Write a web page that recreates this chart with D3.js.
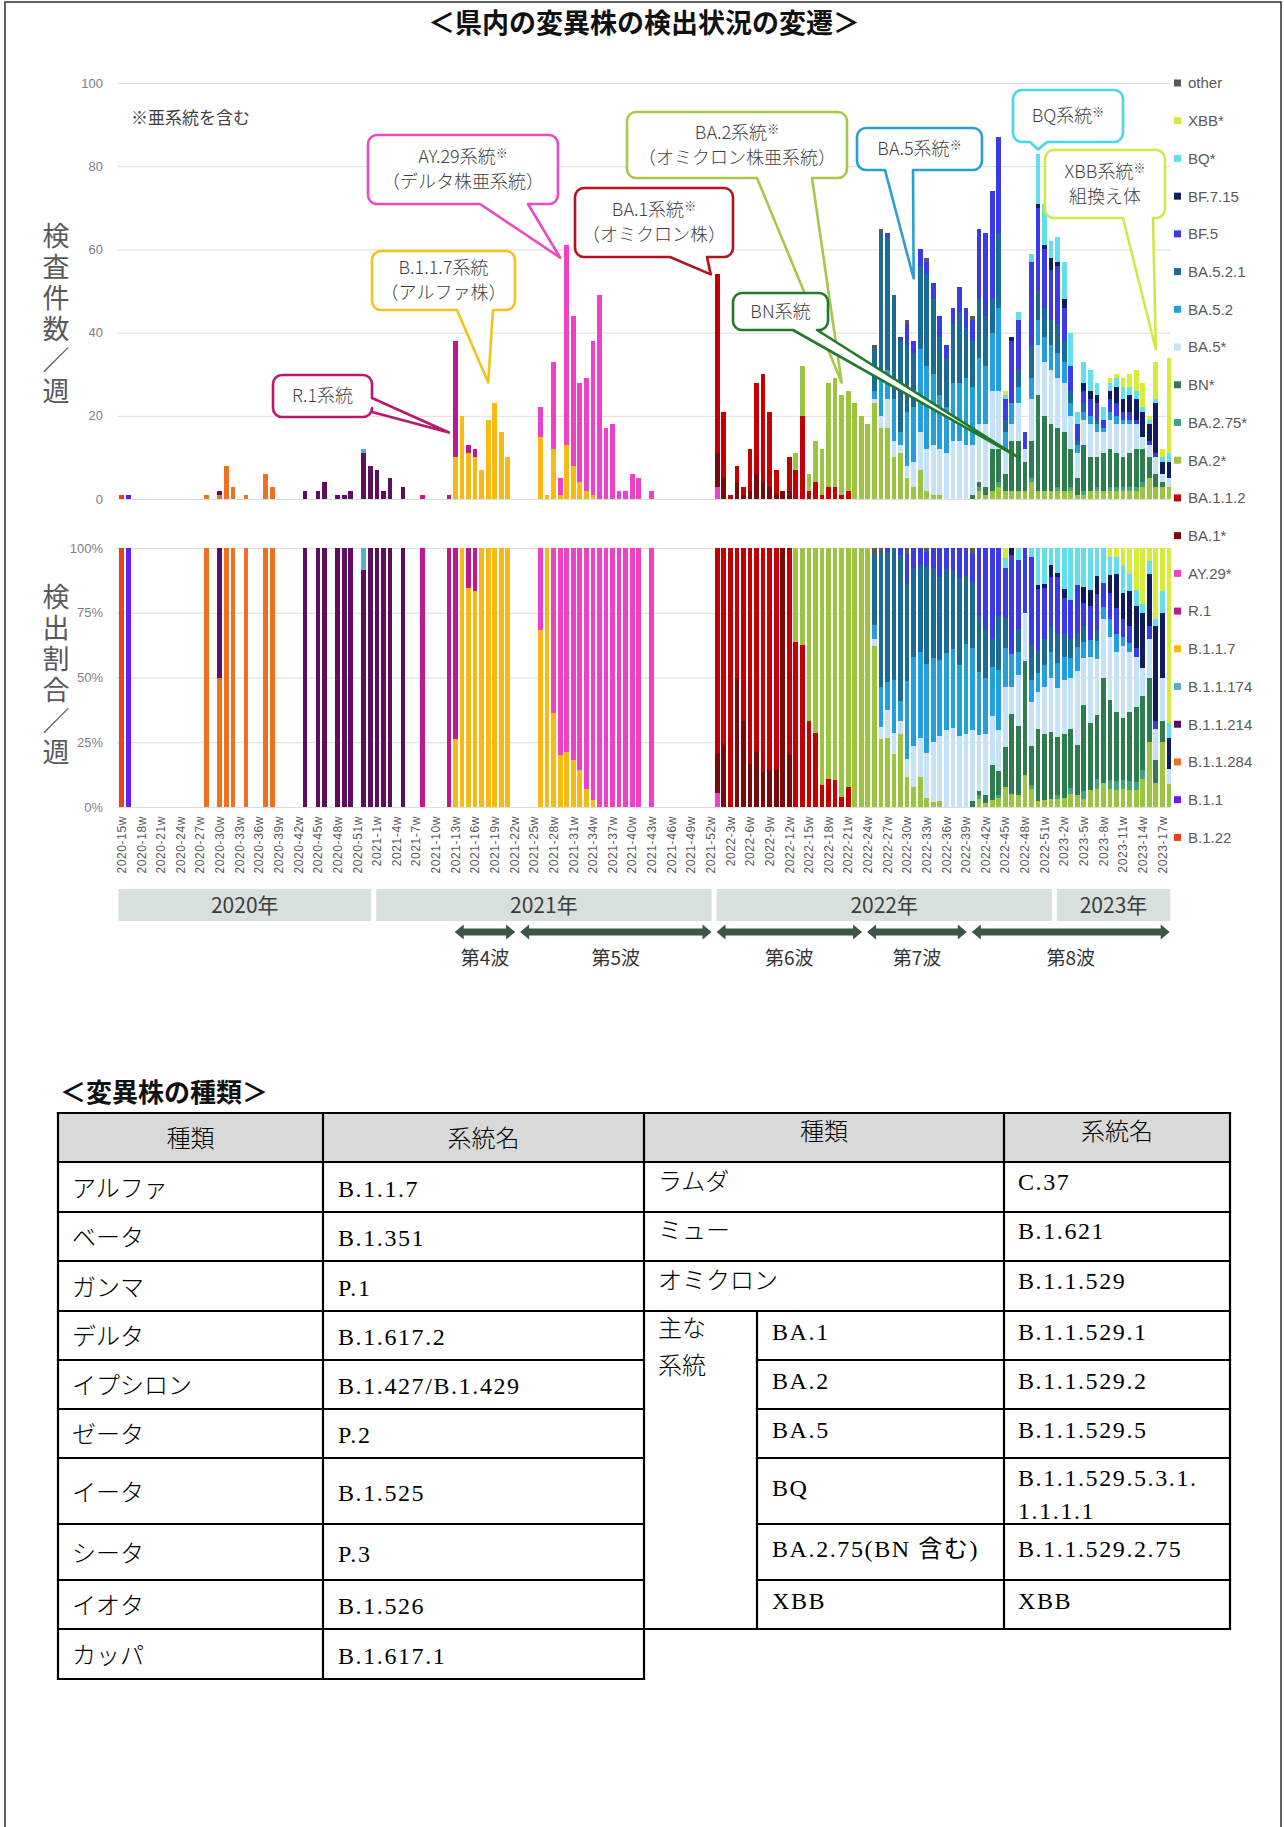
<!DOCTYPE html>
<html lang="ja">
<head>
<meta charset="utf-8">
<title>県内の変異株の検出状況の変遷</title>
<script src="https://cdn.jsdelivr.net/npm/d3@7/dist/d3.min.js"></script>
<style>
html,body{margin:0;padding:0;background:#fff;}
svg{display:block;}
text{font-family:"Liberation Sans","Noto Sans CJK JP",sans-serif;}
.vtitle{writing-mode:vertical-rl;font-feature-settings:"vert" 0,"vrt2" 0;}
</style>
</head>
<body>
<svg id="page" width="1284" height="1827" viewBox="0 0 1284 1827"></svg>
<script>
// ================= DATA =================
const weeks = [
"2020-15w","2020-16w","2020-17w","2020-18w","2020-19w","2020-20w","2020-21w","2020-22w","2020-23w","2020-24w","2020-25w","2020-26w","2020-27w","2020-28w","2020-29w","2020-30w","2020-31w","2020-32w","2020-33w","2020-34w","2020-35w","2020-36w","2020-37w","2020-38w","2020-39w","2020-40w","2020-41w","2020-42w","2020-43w","2020-44w","2020-45w","2020-46w","2020-47w","2020-48w","2020-49w","2020-50w","2020-51w","2020-52w","2020-53w",
"2021-1w","2021-2w","2021-3w","2021-4w","2021-5w","2021-6w","2021-7w","2021-8w","2021-9w","2021-10w","2021-11w","2021-12w","2021-13w","2021-14w","2021-15w","2021-16w","2021-17w","2021-18w","2021-19w","2021-20w","2021-21w","2021-22w","2021-23w","2021-24w","2021-25w","2021-26w","2021-27w","2021-28w","2021-29w","2021-30w","2021-31w","2021-32w","2021-33w","2021-34w","2021-35w","2021-36w","2021-37w","2021-38w","2021-39w","2021-40w","2021-41w","2021-42w","2021-43w","2021-44w","2021-45w","2021-46w","2021-47w","2021-48w","2021-49w","2021-50w","2021-51w","2021-52w",
"2022-1w","2022-2w","2022-3w","2022-4w","2022-5w","2022-6w","2022-7w","2022-8w","2022-9w","2022-10w","2022-11w","2022-12w","2022-13w","2022-14w","2022-15w","2022-16w","2022-17w","2022-18w","2022-19w","2022-20w","2022-21w","2022-22w","2022-23w","2022-24w","2022-25w","2022-26w","2022-27w","2022-28w","2022-29w","2022-30w","2022-31w","2022-32w","2022-33w","2022-34w","2022-35w","2022-36w","2022-37w","2022-38w","2022-39w","2022-40w","2022-41w","2022-42w","2022-43w","2022-44w","2022-45w","2022-46w","2022-47w","2022-48w","2022-49w","2022-50w","2022-51w","2022-52w",
"2023-1w","2023-2w","2023-3w","2023-4w","2023-5w","2023-6w","2023-7w","2023-8w","2023-9w","2023-10w","2023-11w","2023-12w","2023-13w","2023-14w","2023-15w","2023-16w","2023-17w","2023-18w"];

const tickWeeks = ["2020-15w","2020-18w","2020-21w","2020-24w","2020-27w","2020-30w","2020-33w","2020-36w","2020-39w","2020-42w","2020-45w","2020-48w","2020-51w",
"2021-1w","2021-4w","2021-7w","2021-10w","2021-13w","2021-16w","2021-19w","2021-22w","2021-25w","2021-28w","2021-31w","2021-34w","2021-37w","2021-40w","2021-43w","2021-46w","2021-49w","2021-52w",
"2022-3w","2022-6w","2022-9w","2022-12w","2022-15w","2022-18w","2022-21w","2022-24w","2022-27w","2022-30w","2022-33w","2022-36w","2022-39w","2022-42w","2022-45w","2022-48w","2022-51w",
"2023-2w","2023-5w","2023-8w","2023-11w","2023-14w","2023-17w"];

// stack order: bottom -> top
const seriesKeys = ["B.1.22","B.1.1","B.1.1.284","B.1.1.214","B.1.1.174","B.1.1.7","R.1","AY.29*","BA.1*","BA.1.1.2","BA.2*","BA.2.75*","BN*","BA.5*","BA.5.2","BA.5.2.1","BF.5","BF.7.15","BQ*","XBB*","other"];
const seriesColors = ["#ef3e1e","#6a1cf6","#f07020","#5e0e5e","#5aaecf","#f7ba14","#c0168e","#f040c8","#7a0a0a","#c40000","#9bc540","#46a27e","#2e7d4f","#c5e3f5","#23a0dc","#1c6b94","#3a3ae6","#0f1e5a","#62dfea","#d6eb3a","#595959"];

const B_1_22 = [["2020-15w",1]];
const B_1_1 = [["2020-16w",1]];
const B_1_1_284 = [["2020-28w",1],["2020-30w",1],["2020-31w",8],["2020-32w",3],["2020-34w",1],["2020-37w",6],["2020-38w",3]];
const B_1_1_214 = [["2020-30w",1],["2020-43w",2],["2020-45w",2],["2020-46w",4],["2020-48w",1],["2020-49w",1],["2020-50w",2],["2020-52w",11],["2020-53w",8],["2021-1w",7],["2021-2w",2],["2021-3w",5],["2021-5w",3]];
const B_1_1_174 = [["2020-52w",1]];
const B_1_1_7 = [["2021-13w",10],["2021-14w",20],["2021-15w",11],["2021-16w",10],["2021-17w",7],["2021-18w",19],["2021-19w",23],["2021-20w",16],["2021-21w",10],["2021-26w",15],["2021-27w",1],["2021-28w",12],["2021-29w",1],["2021-30w",13],["2021-31w",8],["2021-32w",4],["2021-33w",2],["2021-34w",1]];
const R_1 = [["2021-8w",1],["2021-12w",1],["2021-13w",28],["2021-15w",2],["2021-16w",2]];
const AY_29 = [["2021-26w",7],["2021-28w",21],["2021-29w",4],["2021-30w",48],["2021-31w",36],["2021-32w",24],["2021-33w",27],["2021-34w",37],["2021-35w",49],["2021-36w",17],["2021-37w",18],["2021-38w",2],["2021-39w",2],["2021-40w",6],["2021-41w",5],["2021-43w",2],["2022-1w",3]];
const BA_1 = [["2022-1w",8],["2022-2w",5],["2022-4w",4],["2022-5w",1],["2022-6w",2],["2022-7w",6],["2022-8w",4],["2022-9w",3],["2022-10w",1],["2022-11w",2],["2022-12w",2]];
const BA_1_1_2 = [["2022-1w",43],["2022-2w",16],["2022-3w",1],["2022-4w",4],["2022-5w",2],["2022-6w",10],["2022-7w",22],["2022-8w",26],["2022-9w",18],["2022-10w",6],["2022-12w",8],["2022-13w",7],["2022-14w",20],["2022-15w",2],["2022-16w",4],["2022-17w",1],["2022-18w",3],["2022-19w",3],["2022-20w",1],["2022-21w",2]];
const BA_2 = [["2022-13w",4],["2022-14w",12],["2022-15w",4],["2022-16w",10],["2022-17w",11],["2022-18w",25],["2022-19w",26],["2022-20w",24],["2022-21w",24],["2022-22w",23],["2022-23w",20],["2022-24w",18],["2022-25w",23],["2022-26w",17],["2022-27w",17],["2022-28w",10],["2022-29w",11],["2022-30w",5],["2022-31w",3],["2022-32w",7],["2022-33w",2],["2022-34w",1],["2022-35w",1],["2022-41w",2],["2022-42w",1],["2022-43w",2],["2022-44w",3],["2022-45w",2],["2022-46w",2],["2022-47w",2],["2022-48w",2],["2022-49w",4],["2022-50w",2],["2022-51w",2],["2022-52w",2],["2023-1w",2],["2023-2w",2],["2023-3w",2],["2023-4w",1],["2023-5w",1],["2023-6w",2],["2023-7w",2],["2023-8w",2],["2023-9w",2],["2023-10w",2],["2023-11w",2],["2023-12w",2],["2023-13w",2],["2023-14w",3],["2023-15w",5],["2023-16w",3],["2023-17w",3],["2023-18w",3]];
const BA_2_75 = [["2022-41w",1],["2022-44w",1],["2022-49w",1],["2023-1w",1],["2023-3w",1],["2023-5w",1],["2023-7w",1],["2023-9w",1],["2023-10w",1],["2023-11w",1],["2023-12w",1],["2023-13w",1],["2023-14w",1]];
const BN = [["2022-40w",1],["2022-41w",1],["2022-42w",2],["2022-43w",10],["2022-44w",8],["2022-45w",4],["2022-46w",12],["2022-47w",12],["2022-48w",7],["2022-49w",9],["2022-50w",23],["2022-51w",18],["2022-52w",16],["2023-1w",14],["2023-2w",14],["2023-3w",9],["2023-4w",4],["2023-5w",11],["2023-6w",8],["2023-7w",7],["2023-8w",9],["2023-9w",9],["2023-10w",8],["2023-11w",7],["2023-12w",8],["2023-13w",9],["2023-14w",8],["2023-15w",5],["2023-16w",3],["2023-17w",1]];
const BA_5 = [["2022-25w",1],["2022-26w",3],["2022-27w",7],["2022-28w",4],["2022-29w",2],["2022-30w",3],["2022-31w",6],["2022-32w",9],["2022-33w",10],["2022-34w",12],["2022-35w",11],["2022-36w",11],["2022-37w",14],["2022-38w",14],["2022-39w",13],["2022-40w",12],["2022-41w",14],["2022-42w",15],["2022-43w",14],["2022-44w",14],["2022-45w",6],["2022-46w",4],["2022-47w",9],["2022-48w",3],["2022-49w",10],["2022-50w",12],["2022-51w",13],["2022-52w",13],["2023-1w",12],["2023-2w",12],["2023-3w",8],["2023-4w",6],["2023-5w",6],["2023-6w",8],["2023-7w",6],["2023-8w",5],["2023-9w",7],["2023-10w",7],["2023-11w",8],["2023-12w",7],["2023-13w",6],["2023-14w",3],["2023-15w",3],["2023-16w",4],["2023-17w",2],["2023-18w",2]];
const BA_5_2 = [["2022-25w",2],["2022-26w",10],["2022-27w",7],["2022-28w",10],["2022-29w",3],["2022-30w",13],["2022-31w",13],["2022-32w",20],["2022-33w",20],["2022-34w",17],["2022-35w",13],["2022-36w",11],["2022-37w",14],["2022-38w",14],["2022-39w",16],["2022-40w",14],["2022-41w",16],["2022-42w",14],["2022-43w",14],["2022-44w",20],["2022-45w",4],["2022-46w",5],["2022-47w",4],["2022-49w",5],["2022-50w",6],["2022-51w",6],["2022-52w",6],["2023-1w",6],["2023-2w",5],["2023-3w",3],["2023-4w",2],["2023-5w",2],["2023-6w",2],["2023-7w",2],["2023-8w",1],["2023-9w",2],["2023-10w",2],["2023-11w",1],["2023-12w",1]];
const BA_5_2_1 = [["2022-25w",10],["2022-26w",34],["2022-27w",32],["2022-28w",25],["2022-29w",22],["2022-30w",16],["2022-31w",13],["2022-32w",20],["2022-33w",22],["2022-34w",18],["2022-35w",14],["2022-36w",12],["2022-37w",14],["2022-38w",17],["2022-39w",12],["2022-40w",11],["2022-41w",14],["2022-42w",12],["2022-43w",8],["2022-44w",18],["2022-45w",3],["2022-47w",4],["2022-49w",8],["2022-50w",7],["2022-51w",7],["2022-52w",6],["2023-1w",7],["2023-2w",5],["2023-3w",3],["2023-4w",1],["2023-5w",2],["2023-7w",1]];
const BF_5 = [["2022-27w",1],["2022-29w",1],["2022-30w",5],["2022-31w",3],["2022-32w",4],["2022-33w",3],["2022-34w",4],["2022-35w",5],["2022-36w",3],["2022-37w",4],["2022-38w",6],["2022-39w",5],["2022-40w",5],["2022-41w",17],["2022-42w",20],["2022-43w",26],["2022-44w",23],["2022-45w",5],["2022-46w",15],["2022-47w",12],["2022-48w",4],["2022-49w",20],["2022-50w",20],["2022-51w",14],["2022-52w",12],["2023-1w",14],["2023-2w",8],["2023-3w",6],["2023-4w",4],["2023-5w",3],["2023-6w",4],["2023-7w",4],["2023-8w",2],["2023-9w",3],["2023-10w",3],["2023-11w",2],["2023-12w",2],["2023-13w",1],["2023-15w",1],["2023-16w",1]];
const BF_7_15 = [["2022-46w",1],["2022-50w",1],["2022-51w",1],["2022-52w",3],["2023-1w",1],["2023-2w",2],["2023-5w",2],["2023-6w",2],["2023-7w",2],["2023-9w",2],["2023-10w",4],["2023-11w",3],["2023-12w",4],["2023-13w",5],["2023-14w",6],["2023-15w",4],["2023-16w",12],["2023-17w",3],["2023-18w",4]];
const BQ = [["2022-45w",1],["2022-47w",2],["2022-49w",2],["2022-50w",12],["2022-51w",10],["2022-52w",4],["2023-1w",6],["2023-2w",9],["2023-3w",8],["2023-4w",3],["2023-5w",5],["2023-6w",5],["2023-7w",3],["2023-8w",3],["2023-9w",2],["2023-10w",2],["2023-11w",3],["2023-12w",2],["2023-13w",2],["2023-14w",1],["2023-15w",1],["2023-16w",1],["2023-17w",1],["2023-18w",2]];
const XBB = [["2022-45w",1],["2023-9w",1],["2023-10w",1],["2023-11w",2],["2023-12w",3],["2023-13w",5],["2023-14w",6],["2023-15w",1],["2023-16w",9],["2023-17w",2],["2023-18w",23]];
const OTHER = [["2022-25w",1],["2022-26w",1],["2022-30w",1],["2022-33w",1],["2022-40w",1]];

const seriesData = [B_1_22,B_1_1,B_1_1_284,B_1_1_214,B_1_1_174,B_1_1_7,R_1,AY_29,BA_1,BA_1_1_2,BA_2,BA_2_75,BN,BA_5,BA_5_2,BA_5_2_1,BF_5,BF_7_15,BQ,XBB,OTHER];

const countTicks = [0,20,40,60,80,100];
const shareTicks = [0,0.25,0.5,0.75,1];

const yearLabels = ["2020年","2021年","2022年","2023年"];
const yearFirst = ["2020-15w","2021-1w","2022-1w","2023-1w"];
const yearLast = ["2020-53w","2021-52w","2022-52w","2023-18w"];

const waveLabels = ["第4波","第5波","第6波","第7波","第8波"];
const waveFirst = ["2021-13w","2021-23w","2022-1w","2022-24w","2022-40w"];
const waveLast = ["2021-22w","2021-52w","2022-23w","2022-39w","2023-18w"];

const calloutLines = [["R.1系統"],["B.1.1.7系統","（アルファ株）"],["AY.29系統※","（デルタ株亜系統）"],["BA.1系統※","（オミクロン株）"],["BA.2系統※","（オミクロン株亜系統）"],["BN系統"],["BA.5系統※"],["BQ系統※"],["XBB系統※","組換え体"]];
const calloutColors = ["#b8186f","#f0c419","#e94bc3","#b0141e","#a7c84b","#22792d","#2a9fd0","#46d8e6","#d3e64c"];
const calloutTargets = [["2021-12w",16],["2021-18w",28],["2021-29w",58],["2021-52w",54],["2022-20w",28],["2022-47w",10],["2022-31w",53],["2022-50w",84],["2023-16w",36]];

const leftTypes = ["アルファ","ベータ","ガンマ","デルタ","イプシロン","ゼータ","イータ","シータ","イオタ","カッパ"];
const leftLineages = ["B.1.1.7","B.1.351","P.1","B.1.617.2","B.1.427/B.1.429","P.2","B.1.525","P.3","B.1.526","B.1.617.1"];
const rightTypes = ["ラムダ","ミュー","オミクロン"];
const rightLineages = ["C.37","B.1.621","B.1.1.529"];
const subTypes = ["BA.1","BA.2","BA.5","BQ","BA.2.75(BN 含む)","XBB"];
const subLineages = [["B.1.1.529.1"],["B.1.1.529.2"],["B.1.1.529.5"],["B.1.1.529.5.3.1.","1.1.1.1"],["B.1.1.529.2.75"],["XBB"]];
const headerLabels = ["種類","系統名","種類","系統名"];

// ================= LAYOUT =================
const svg = d3.select("#page");
const JP = "'Noto Sans CJK JP',sans-serif";
const SERIF = "'Liberation Serif','Noto Sans CJK JP',serif";

// page frame
svg.append("rect").attr("x",5).attr("y",2).attr("width",1276).attr("height",1840)
  .attr("fill","none").attr("stroke","#3a3a3a").attr("stroke-width",1.6);

// title
svg.append("text").attr("x",644).attr("y",23).attr("dy","0.36em").attr("text-anchor","middle")
  .style("font-family",JP).style("font-weight",700).style("font-size","27px").attr("fill","#111")
  .text("＜県内の変異株の検出状況の変遷＞");

// data table
const rows = weeks.map(w => { const r = {week:w}; seriesKeys.forEach(k => r[k] = 0); return r; });
const rowIndex = new Map(weeks.map((w,i) => [w,i]));
seriesData.forEach((arr,si) => arr.forEach(([w,v]) => { rows[rowIndex.get(w)][seriesKeys[si]] = v; }));
const colorOf = d3.scaleOrdinal().domain(seriesKeys).range(seriesColors);

const x = d3.scaleBand().domain(weeks).range([118.4,1172.2]).paddingInner(0.28).paddingOuter(0.14);
const yTop = d3.scaleLinear().domain([0,100]).range([499,83]);
const yBot = d3.scaleLinear().domain([0,1]).range([807,548]);

function styleGrid(g){
  g.select(".domain").remove();
  g.selectAll(".tick line").attr("stroke","#dcdcdc").attr("stroke-width",1);
  g.selectAll(".tick text").attr("fill","#7f7f7f").style("font-size","13px")
    .style("font-family","'Liberation Sans',sans-serif");
}
svg.append("g").attr("transform","translate(117,0)")
  .call(d3.axisLeft(yTop).tickValues(countTicks).tickSize(-1053).tickPadding(14))
  .call(styleGrid);
svg.append("g").attr("transform","translate(117,0)")
  .call(d3.axisLeft(yBot).tickValues(shareTicks).tickSize(-1053).tickPadding(14).tickFormat(d3.format(".0%")))
  .call(styleGrid);

// stacked counts
const stackTop = d3.stack().keys(seriesKeys)(rows);
svg.append("g").attr("shape-rendering","crispEdges")
  .selectAll("g").data(stackTop).join("g").attr("fill", d => colorOf(d.key))
  .selectAll("rect").data(d => d.filter(s => s[1] > s[0])).join("rect")
  .attr("x", d => x(d.data.week)).attr("width", x.bandwidth())
  .attr("y", d => yTop(d[1])).attr("height", d => yTop(d[0]) - yTop(d[1]));

// stacked shares
const stackBot = d3.stack().keys(seriesKeys).offset(d3.stackOffsetExpand)(rows);
svg.append("g").attr("shape-rendering","crispEdges")
  .selectAll("g").data(stackBot).join("g").attr("fill", d => colorOf(d.key))
  .selectAll("rect").data(d => d.filter(s => s[1] > s[0])).join("rect")
  .attr("x", d => x(d.data.week)).attr("width", x.bandwidth())
  .attr("y", d => yBot(d[1])).attr("height", d => yBot(d[0]) - yBot(d[1]));

// x axis labels
const gx = svg.append("g").attr("transform","translate(0,807)")
  .call(d3.axisBottom(x).tickValues(tickWeeks).tickSize(0).tickPadding(0));
gx.select(".domain").remove();
gx.selectAll(".tick text").attr("transform","rotate(-90)").attr("x",-9).attr("y",0).attr("dy","0.35em")
  .style("text-anchor","end").attr("fill","#595959").style("font-size","12px")
  .style("font-family","'Liberation Sans',sans-serif").style("letter-spacing","0.6px");

// y titles (vertical writing)
function vTitle(str, cx, yTopEdge){
  svg.append("text").attr("class","vtitle").attr("x",cx).attr("y",yTopEdge)
    .style("font-family",JP).style("font-size","27px").style("letter-spacing","4px").attr("fill","#595959")
    .text(str);
}
vTitle("検査件数／週", 56, 222);
vTitle("検出割合／週", 56, 583);

svg.append("text").attr("x",131).attr("y",118).attr("dy","0.36em")
  .style("font-family",JP).style("font-size","17px").attr("fill","#404040").text("※亜系統を含む");

// legend
const legendKeys = seriesKeys.slice().reverse();
const lg = svg.append("g").selectAll("g").data(legendKeys).join("g")
  .attr("transform",(d,i) => `translate(1174,${83 + i*37.72})`);
lg.append("rect").attr("x",0).attr("y",-3.5).attr("width",7).attr("height",7).attr("fill", d => colorOf(d));
lg.append("text").attr("x",14).attr("dy","0.36em").style("font-size","15px").attr("fill","#595959").text(d => d);

// callouts
const calloutBoxes = [
  [273,375,99,42,"right",398,412],
  [372,251,143,59,"bottom",457,493],
  [368,135,190,69,"bottom",480,528],
  [575,188,158,69,"bottom",670,707],
  [627,112,220,66,"bottom",757,812],
  [733,293,95,37,"bottom",793,817],
  [857,128,125,42,"bottom",885,913],
  [1013,90,110,52,"bottom",1030,1047],
  [1045,150,120,68,"bottom",1123,1153]];
function bubblePath(bx,by,bw,bh,side,b1,b2,tx,ty){
  const r = 9, p = d3.path();
  p.moveTo(bx+r,by);
  p.lineTo(bx+bw-r,by);
  p.arcTo(bx+bw,by,bx+bw,by+r,r);
  if(side==="right"){ p.lineTo(bx+bw,b1); p.lineTo(tx,ty); p.lineTo(bx+bw,b2); }
  p.lineTo(bx+bw,by+bh-r);
  p.arcTo(bx+bw,by+bh,bx+bw-r,by+bh,r);
  if(side==="bottom"){ p.lineTo(b2,by+bh); p.lineTo(tx,ty); p.lineTo(b1,by+bh); }
  p.lineTo(bx+r,by+bh);
  p.arcTo(bx,by+bh,bx,by+bh-r,r);
  p.lineTo(bx,by+r);
  p.arcTo(bx,by,bx+r,by,r);
  p.closePath();
  return p.toString();
}
const cg = svg.append("g");
calloutBoxes.forEach((b,i) => {
  const [bx,by,bw,bh,side,b1,b2] = b;
  const [tw,tv] = calloutTargets[i];
  const tx = x(tw) + x.bandwidth()/2, ty = yTop(tv);
  cg.append("path").attr("d", bubblePath(bx,by,bw,bh,side,b1,b2,tx,ty))
    .attr("fill","#fff").attr("stroke",calloutColors[i]).attr("stroke-width",2.6).attr("stroke-linejoin","round");
  const lines = calloutLines[i];
  const cx = bx + bw/2, cy = by + bh/2;
  lines.forEach((ln,k) => {
    const yy = cy + (k - (lines.length-1)/2) * 25;
    const t = cg.append("text").attr("x",cx).attr("y",yy).attr("dy","0.36em").attr("text-anchor","middle")
      .style("font-family",JP).style("font-size","18px").style("font-weight",300).attr("fill","#3f3f3f");
    const parts = ln.split("※");
    t.append("tspan").text(parts[0]);
    if(parts.length > 1){ t.append("tspan").attr("dy","-0.45em").style("font-size","12px").text("※"); }
  });
});

// year bands
const yg = svg.append("g");
yearLabels.forEach((lab,i) => {
  const x0 = x(yearFirst[i]) - x.step()*0.14 + (i===0 ? 0 : 2.5);
  const x1 = x(yearLast[i]) + x.bandwidth() + x.step()*0.14 - (i===3 ? 2 : 2.5);
  yg.append("rect").attr("x",x0).attr("y",889).attr("width",x1-x0).attr("height",32).attr("fill","#d8e0dd");
  yg.append("text").attr("x",(x0+x1)/2).attr("y",905).attr("dy","0.36em").attr("text-anchor","middle")
    .style("font-family",JP).style("font-size","21px").attr("fill","#3c3c3c").text(lab);
});

// wave arrows
function arrowPath(x0,x1,yc){
  const hl = 9, hh = 7.5, bh = 3.6;
  return `M${x0},${yc}L${x0+hl},${yc-hh}L${x0+hl},${yc-bh}L${x1-hl},${yc-bh}L${x1-hl},${yc-hh}L${x1},${yc}`+
         `L${x1-hl},${yc+hh}L${x1-hl},${yc+bh}L${x0+hl},${yc+bh}L${x0+hl},${yc+hh}Z`;
}
const wg = svg.append("g");
waveLabels.forEach((lab,i) => {
  const x0 = x(waveFirst[i]) - x.step()*0.14 + 2.5;
  const x1 = x(waveLast[i]) + x.bandwidth() + x.step()*0.14 - 2.5;
  wg.append("path").attr("d", arrowPath(x0,x1,932)).attr("fill","#3b5547");
  wg.append("text").attr("x",(x0+x1)/2).attr("y",958).attr("dy","0.36em").attr("text-anchor","middle")
    .style("font-family",JP).style("font-size","19px").attr("fill","#333").text(lab);
});

// ================= TABLE =================
svg.append("text").attr("x",60).attr("y",1093).attr("dy","0.36em")
  .style("font-family",JP).style("font-weight",700).style("font-size","26px").attr("fill","#111")
  .text("＜変異株の種類＞");

const tX = [58,323,644,1004,1230], subX = 757;
const tY = [1113,1162,1212,1261,1311,1360,1409,1458,1524,1580,1629,1679];
const tg = svg.append("g");
tg.append("rect").attr("x",tX[0]).attr("y",tY[0]).attr("width",tX[4]-tX[0]).attr("height",tY[1]-tY[0]).attr("fill","#d9d9d9");
const segs = [];
tY.forEach((yy,j) => {
  segs.push([tX[0],yy,tX[2],yy]);
  if(j<=4 || j===10) segs.push([tX[2],yy,tX[4],yy]);
  else if(j<10) segs.push([subX,yy,tX[4],yy]);
});
[tX[0],tX[1],tX[2]].forEach(xx => segs.push([xx,tY[0],xx,tY[11]]));
[tX[3],tX[4]].forEach(xx => segs.push([xx,tY[0],xx,tY[10]]));
segs.push([subX,tY[4],subX,tY[10]]);
tg.selectAll("line").data(segs).join("line")
  .attr("x1",d=>d[0]).attr("y1",d=>d[1]).attr("x2",d=>d[2]).attr("y2",d=>d[3])
  .attr("stroke","#000").attr("stroke-width",2.2).attr("stroke-linecap","square");

function cell(txt,xx,yy,anchor,latin){
  tg.append("text").attr("x",xx).attr("y",yy).attr("dy","0.36em").attr("text-anchor",anchor||"start")
    .style("font-family",SERIF).style("font-size","24px").style("font-weight",latin?400:300)
    .style("letter-spacing",latin?"1.6px":"0px")
    .attr("fill","#000").text(txt);
}
const headCx = [(tX[0]+tX[1])/2,(tX[1]+tX[2])/2,(tX[2]+tX[3])/2,(tX[3]+tX[4])/2];
headerLabels.forEach((h,i) => cell(h, headCx[i], i<2 ? 1138 : 1131, "middle", false));
leftTypes.forEach((t,j) => {
  const cy = (tY[j+1]+tY[j+2])/2 + 1;
  cell(t, tX[0]+14, cy, "start", false);
  cell(leftLineages[j], tX[1]+15, cy, "start", true);
});
rightTypes.forEach((t,j) => {
  const cy = (tY[j+1]+tY[j+2])/2 - 6;
  cell(t, tX[2]+14, cy, "start", false);
  cell(rightLineages[j], tX[3]+14, cy, "start", true);
});
cell("主な", tX[2]+14, 1328, "start", false);
cell("系統", tX[2]+14, 1365, "start", false);
subTypes.forEach((t,j) => {
  const top = tY[j+4], bot = tY[j+5];
  const cy = (top+bot)/2 - 4;
  cell(t, subX+15, cy, "start", true);
  const ls = subLineages[j];
  if(ls.length === 1) cell(ls[0], tX[3]+14, cy, "start", true);
  else { cell(ls[0], tX[3]+14, top+19, "start", true); cell(ls[1], tX[3]+14, top+52, "start", true); }
});
</script>
</body>
</html>
